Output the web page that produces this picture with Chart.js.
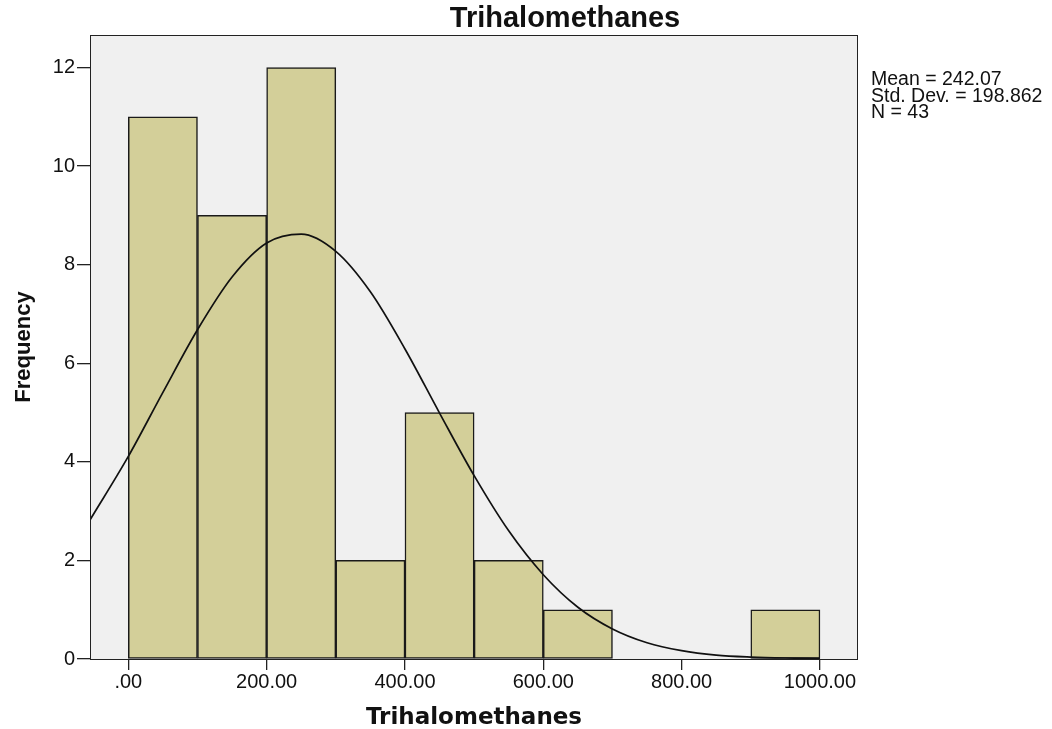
<!DOCTYPE html>
<html>
<head>
<meta charset="utf-8">
<script src="https://cdn.jsdelivr.net/npm/chart.js@4.4.1/dist/chart.umd.min.js"></script>
<style>
  body { margin: 0; background: #fff; }
  canvas { display: block; }
</style>
</head>
<body>
<canvas id="chart-area" width="1052" height="729"></canvas>
<script>
// histogram bins (midpoints) and counts
var binMids = [50, 150, 250, 350, 450, 550, 650, 750, 850, 950];
var counts = [11, 9, 12, 2, 5, 2, 1, 0, 0, 1];

// normal curve
var curveX = [-55, 0, 50, 100, 150, 200, 250, 300, 350, 400, 450, 500, 550, 600, 650, 700, 750, 800, 850, 900, 950, 1000];
var curveY = [2.83, 4.11, 5.41, 6.68, 7.75, 8.44, 8.62, 8.27, 7.45, 6.29, 4.99, 3.72, 2.60, 1.71, 1.05, 0.61, 0.33, 0.17, 0.08, 0.04, 0.02, 0.01];

var xTicks = [0, 200, 400, 600, 800, 1000];
var yTicks = [0, 2, 4, 6, 8, 10, 12];
var statLines = ['Mean = 242.07', 'Std. Dev. = 198.862', 'N = 43'];
var chartTitle = 'Trihalomethanes';

var barData = [];
for (var i = 0; i < binMids.length; i++) {
    barData.push({x: binMids[i], y: counts[i]});
}
var lineData = [];
for (var j = 0; j < curveX.length; j++) {
    lineData.push({x: curveX[j], y: curveY[j]});
}

//plot background, frame, title and stats box
var decor = {
    id: 'decor',
    beforeDatasetsDraw: function (chart) {
        var a = chart.chartArea, ctx = chart.ctx;
        ctx.save();
        ctx.fillStyle = '#f0f0f0';
        ctx.fillRect(a.left, a.top, a.right - a.left, a.bottom - a.top);
        ctx.restore();
    },
    afterDraw: function (chart) {
        var a = chart.chartArea, ctx = chart.ctx;
        ctx.save();
        ctx.strokeStyle = '#222';
        ctx.lineWidth = 1;
        ctx.strokeRect(a.left + 0.5, a.top + 0.5, a.right - a.left - 1, a.bottom - a.top);
        ctx.fillStyle = '#111';
        ctx.font = 'bold 29px "Liberation Sans", Arial, sans-serif';
        ctx.textAlign = 'center';
        ctx.textBaseline = 'alphabetic';
        ctx.fillText(chartTitle, 565, 27);
        ctx.font = '19.5px "Liberation Sans", Arial, sans-serif';
        ctx.textAlign = 'left';
        for (var k = 0; k < statLines.length; k++) {
            ctx.fillText(statLines[k], 871, 85 + k * 16.7);
        }
        ctx.restore();
    }
};

var config = {
    type: 'bar',
    data: {
        datasets: [{
            type: 'line',
            data: lineData,
            borderColor: '#111',
            borderWidth: 1.7,
            pointRadius: 0,
            fill: false,
            cubicInterpolationMode: 'monotone',
            order: 0
        }, {
            type: 'bar',
            data: barData,
            backgroundColor: 'rgb(211, 207, 153)',
            borderColor: '#1a1a1a',
            borderWidth: 1.5,
            borderSkipped: false,
            barPercentage: 1,
            categoryPercentage: 1,
            order: 1
        }]
    },
    options: {
        responsive: false,
        animation: false,
        layout: { padding: { top: 35, right: 194, left: 0, bottom: 0 } },
        plugins: {
            legend: { display: false },
            tooltip: { enabled: false }
        },
        scales: {
            x: {
                type: 'linear',
                offset: false,
                min: -55.4,
                max: 1055,
                afterBuildTicks: function (s) { s.ticks = xTicks.map(function (v) { return {value: v}; }); },
                afterFit: function (s) { s.height = 70; },
                border: { display: false },
                grid: { offset: false, drawOnChartArea: false, drawTicks: true, tickLength: 11, color: '#222', lineWidth: 1.3 },
                ticks: {
                    color: '#111',
                    padding: 0,
                    maxRotation: 0,
                    font: { family: '"Liberation Sans", Arial, sans-serif', size: 20 },
                    callback: function (v) { return v === 0 ? '.00' : v.toFixed(2); }
                },
                title: {
                    display: true,
                    text: 'Trihalomethanes',
                    color: '#111',
                    padding: { top: 0, bottom: -3 },
                    font: { family: '"DejaVu Sans", sans-serif', size: 23, weight: 'bold' }
                }
            },
            y: {
                min: 0,
                max: 12.66,
                afterBuildTicks: function (s) { s.ticks = yTicks.map(function (v) { return {value: v}; }); },
                afterFit: function (s) { s.width = 90; },
                border: { display: false },
                grid: { drawOnChartArea: false, drawTicks: true, tickLength: 13, color: '#222', lineWidth: 1.3 },
                ticks: {
                    color: '#111',
                    padding: 2,
                    font: { family: '"Liberation Sans", Arial, sans-serif', size: 20 }
                },
                title: {
                    display: true,
                    text: 'Frequency',
                    color: '#111',
                    padding: { top: 11, bottom: 0 },
                    font: { family: '"Liberation Sans", Arial, sans-serif', size: 22, weight: 'bold' }
                }
            }
        }
    },
    plugins: [decor]
};

var ctx = document.getElementById('chart-area').getContext('2d');
var myChart = new Chart(ctx, config);
</script>
</body>
</html>
